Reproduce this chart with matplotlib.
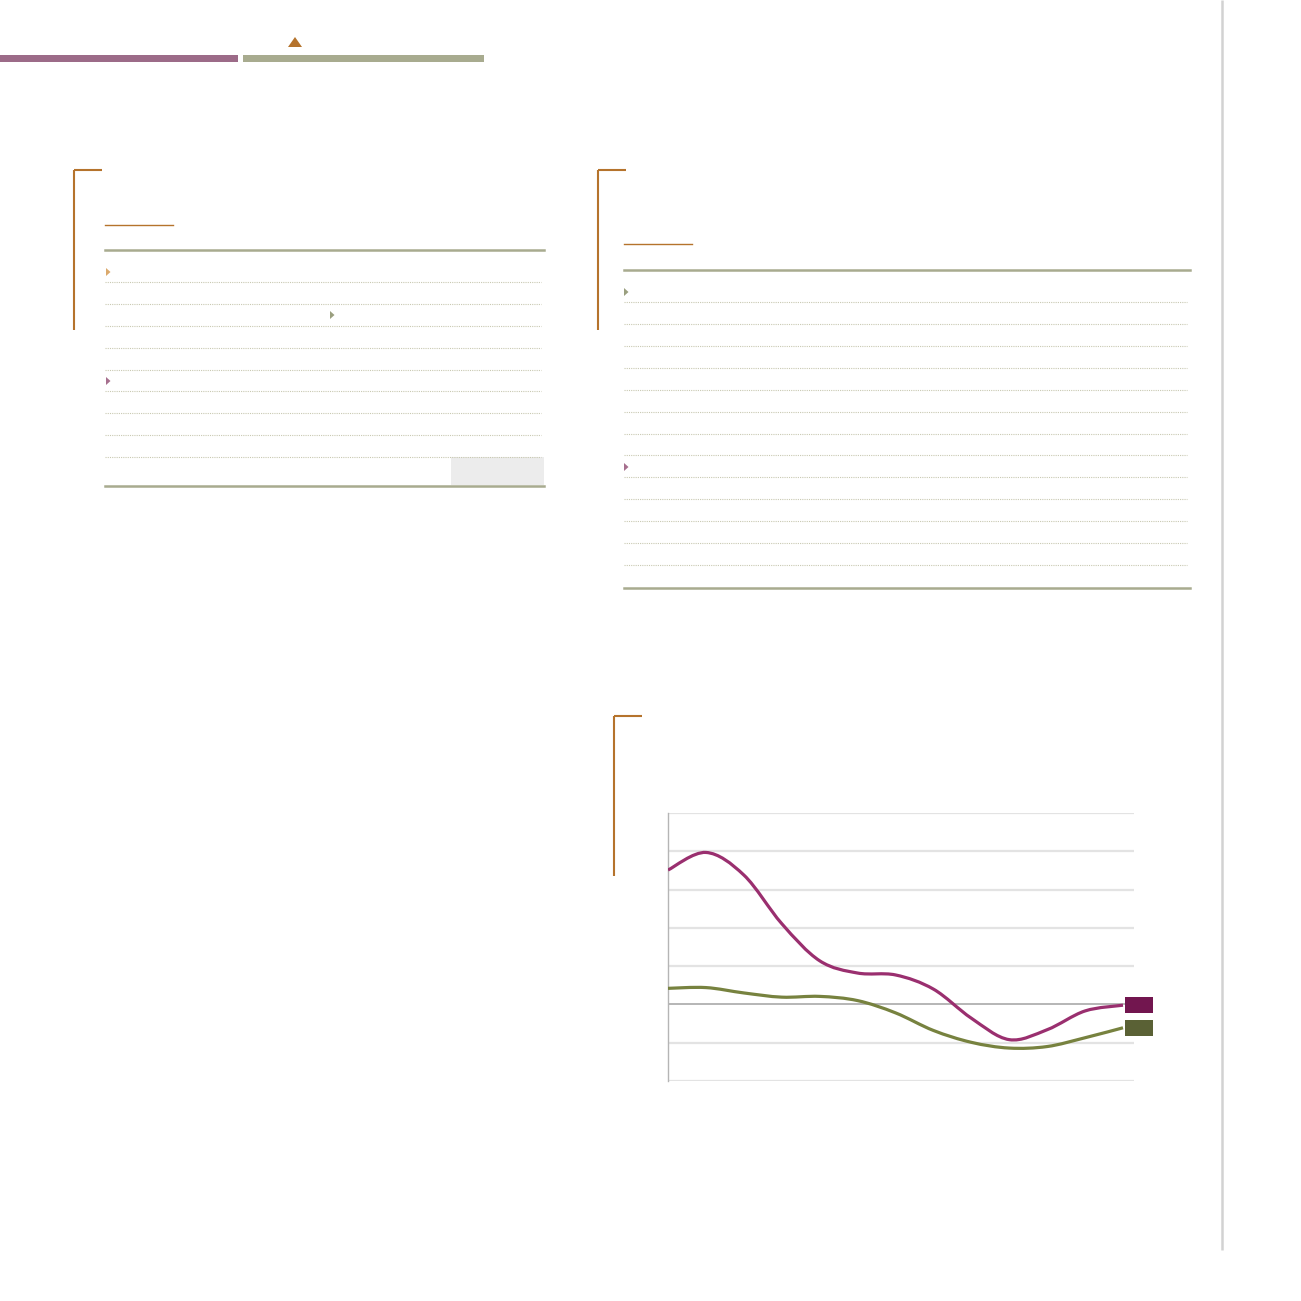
import matplotlib
matplotlib.use("Agg")
import matplotlib.pyplot as plt
from matplotlib.path import Path
from matplotlib.patches import PathPatch, Rectangle, Polygon
import numpy as np

# ---- data ----
periods = list(range(13))
series_a = [3.51, 3.97, 3.38, 2.11, 1.14, 0.82, 0.77, 0.40, -0.36, -0.92, -0.66, -0.17, -0.02]
series_b = [0.42, 0.44, 0.30, 0.19, 0.21, 0.10, -0.22, -0.68, -0.99, -1.14, -1.10, -0.87, -0.61]
y_ticks = [-2, -1, 0, 1, 2, 3, 4, 5]

col_a = "#9a2f6f"
col_b = "#77823f"
box_a = "#72164f"
box_b = "#5a6135"

W = 1301
fig = plt.figure(figsize=(W / 100, W / 100), dpi=100)
fig.patch.set_facecolor("white")

# overlay in pixel coordinates for page decorations
ov = fig.add_axes([0, 0, 1, 1])
ov.set_xlim(0, W)
ov.set_ylim(W, 0)
ov.axis("off")

ORANGE = "#b5732c"
SAGE = "#a8ab8f"
MAUVE = "#9c6b88"
DOT = "#c9c9b2"

# top bars
ov.add_patch(Rectangle((0, 55), 238, 7, color=MAUVE, lw=0))
ov.add_patch(Rectangle((243, 55), 241, 7, color=SAGE, lw=0))
ov.add_patch(Polygon([[288, 47], [302, 47], [295, 37]], closed=True, color=ORANGE, lw=0))

# right vertical rule
ov.plot([1222, 1222], [0, 1250], color="#d2d2d2", lw=1.8, solid_capstyle="butt")

def bracket(x, y, h=160, w=28):
    ov.plot([x, x], [y, y + h], color=ORANGE, lw=1.5, solid_capstyle="butt")
    ov.plot([x, x + w], [y, y], color=ORANGE, lw=1.5, solid_capstyle="butt")

def tri(x, y, c):
    ov.add_patch(Polygon([[x, y - 4], [x, y + 4], [x + 4.5, y]], closed=True, color=c, lw=0))

# left table
bracket(74, 170)
ov.plot([105, 173], [225, 225], color=ORANGE, lw=1.0)
ov.plot([105, 544], [250, 250], color=SAGE, lw=1.8)
ov.add_patch(Rectangle((451, 457), 93, 28, color="#ececec", lw=0))
for yy in [282, 304, 326, 348, 370, 391, 413, 435, 457]:
    ov.plot([105, 541], [yy, yy], color=DOT, lw=0.8, ls=(0, (1, 1)))
ov.plot([105, 544], [486, 486], color=SAGE, lw=1.8)
tri(106, 272, "#dba96c")
tri(330, 315, "#9a9f7f")
tri(106, 381, "#a66f8e")

# right table
bracket(598, 170)
ov.plot([624, 692], [244, 244], color=ORANGE, lw=1.0)
ov.plot([624, 1190], [270, 270], color=SAGE, lw=1.8)
for yy in [302, 324, 346, 368, 390, 412, 434, 455, 477, 499, 521, 543, 565]:
    ov.plot([624, 1187], [yy, yy], color=DOT, lw=0.8, ls=(0, (1, 1)))
ov.plot([624, 1190], [588, 588], color=SAGE, lw=1.8)
tri(624, 292, "#9a9f7f")
tri(624, 467, "#a66f8e")

# chart bracket
bracket(614, 716)

# ---- line chart ----
L, R, T, B = 668, 1134, 813, 1081
ax = fig.add_axes([L / W, (W - B) / W, (R - L) / W, (B - T) / W])
ax.set_facecolor("none")
x_last = periods[-1]
xmax = x_last * (R - L) / (1123 - L)
ax.set_xlim(0, xmax)
ax.set_ylim(y_ticks[0], y_ticks[-1])
for s in ["top", "right", "bottom"]:
    ax.spines[s].set_visible(False)
ax.spines["left"].set_color("#b5b5b5")
ax.spines["left"].set_linewidth(1.0)
ax.set_xticks([])
ax.set_yticks([])
for t in y_ticks:
    if t == 0:
        ax.axhline(t, color="#a9a9a9", lw=1.2, zorder=1)
    else:
        ax.axhline(t, color="#e3e3e3", lw=1.6, zorder=1)


def smooth_path(xs, ys):
    # Catmull-Rom spline expressed as cubic Bezier segments
    xs = np.asarray(xs, float)
    ys = np.asarray(ys, float)
    pts = np.column_stack([xs, ys])
    n = len(pts)
    verts = [pts[0]]
    codes = [Path.MOVETO]
    for i in range(n - 1):
        p0 = pts[i - 1] if i > 0 else pts[i]
        p1 = pts[i]
        p2 = pts[i + 1]
        p3 = pts[i + 2] if i + 2 < n else pts[i + 1]
        c1 = p1 + (p2 - p0) / 6.0
        c2 = p2 - (p3 - p1) / 6.0
        verts += [c1, c2, p2]
        codes += [Path.CURVE4] * 3
    return Path(verts, codes)


for ys, c in [(series_b, col_b), (series_a, col_a)]:
    ax.add_patch(PathPatch(smooth_path(periods, ys), facecolor="none",
                           edgecolor=c, lw=2.3, capstyle="butt", joinstyle="round", zorder=3))

# end markers (legend swatches)
px_x = xmax / (R - L)
px_y = (y_ticks[-1] - y_ticks[0]) / (B - T)
bw, bh = 28 * px_x, 16 * px_y
bx = (1125 - L) * px_x
for ys, c in [(series_a, box_a), (series_b, box_b)]:
    ax.add_patch(Rectangle((bx, ys[-1] - bh / 2), bw, bh, facecolor=c, edgecolor="none",
                           clip_on=False, zorder=4))

fig.savefig("out.png", dpi=100, facecolor="white")
